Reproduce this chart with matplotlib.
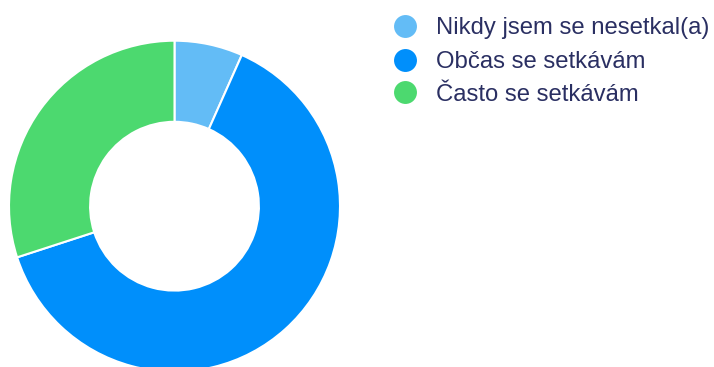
import matplotlib
matplotlib.use("Agg")
import matplotlib.pyplot as plt

# Survey answers and counts
labels = ["Nikdy jsem se nesetkal(a)", "Občas se setkávám", "Často se setkávám"]
counts = [2, 19, 9]
colors = ["#63bcf6", "#008ffb", "#4cd96f"]

W, H = 714, 367
fig = plt.figure(figsize=(W / 100, H / 100), dpi=100)
ax = fig.add_axes([0, 0, 1, 1])

outer_r = 165.5
ax.pie(
    counts,
    colors=colors,
    center=(174.5, H - 206.2),
    radius=outer_r,
    startangle=90,
    counterclock=False,
    wedgeprops=dict(width=outer_r * 0.49, edgecolor="white", linewidth=1.5),
    frame=True,
)
ax.set_xlim(0, W)
ax.set_ylim(0, H)
ax.set_aspect("equal")
ax.axis("off")

# Legend drawn as markers + text
text_color = "#2a2f62"
font_pt = 17.2
cap_half = 0.716 * font_pt * 100 / 72 / 2
row_y = [25.8, 59.5, 92.2]
for lab, col, y in zip(labels, colors, row_y):
    ax.scatter([405], [H - y], s=16.5 ** 2, color=col, marker="o", linewidths=0, zorder=5)
    ax.text(435.5, H - y - cap_half, lab, color=text_color, fontsize=font_pt,
            family="Liberation Sans", va="baseline", ha="left")

fig.savefig("out.png", dpi=100)
